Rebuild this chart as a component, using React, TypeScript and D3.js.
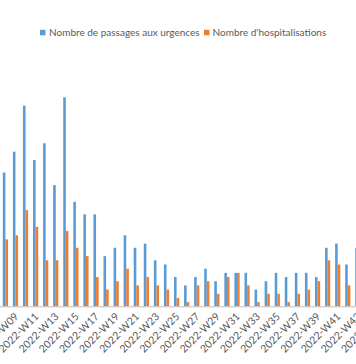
import React from "react";
import * as d3 from "d3";

const weeks = [
  "2022-W08","2022-W09","2022-W10","2022-W11","2022-W12","2022-W13","2022-W14","2022-W15",
  "2022-W16","2022-W17","2022-W18","2022-W19","2022-W20","2022-W21","2022-W22","2022-W23",
  "2022-W24","2022-W25","2022-W26","2022-W27","2022-W28","2022-W29","2022-W30","2022-W31",
  "2022-W32","2022-W33","2022-W34","2022-W35","2022-W36","2022-W37","2022-W38","2022-W39",
  "2022-W40","2022-W41","2022-W42","2022-W43","2022-W44","2022-W45",
];
const tickLabels = weeks.filter((w) => parseInt(w.slice(6), 10) % 2 === 1);

const passages = [32,37,48,35,39,29,50,25,22,22,12,14,17,14,15,11,10,7,5,7,9,6,8,8,8,4,6,8,7,8,8,7,14,15,10,14];
const hospitalisations = [16,17,23,19,11,11,18,14,12,7,4,6,9,5,7,5,4,2,1,5,6,3,7,8,5,1,3,3,1,3,4,6,11,10,5,6];

const seriesNames = ["Nombre de passages aux urgences", "Nombre d'hospitalisations"];
const colors = ["#5B9BD5", "#ED7D31"];

const W = 356;
const H = 364;
const baseY = 306.3;
const step = 10.07;
const x0 = 0.37;
const barW = 2.6;

export default function App() {
  const x = d3.scaleBand<string>().domain(weeks).range([x0, x0 + weeks.length * step]).padding(0);
  const sub = d3
    .scaleBand<string>()
    .domain(seriesNames)
    .range([step / 2 - barW, step / 2 + barW])
    .padding(0);
  const y = d3.scaleLinear().domain([0, 60]).range([baseY, baseY - 60 * 4.18]);

  const data = [passages, hospitalisations];
  const font = "Lato, 'Open Sans', sans-serif";

  return (
    <svg
      width={W}
      height={H}
      style={{ position: "fixed", left: 0, top: 0, background: "#fff" }}
      fontFamily={font}
    >
      <rect x={0} y={0} width={W} height={H} fill="#fff" />
      {data.map((vals, si) =>
        vals.map((v, i) => (
          <rect
            key={`${si}-${i}`}
            x={(x(weeks[i]) as number) + (sub(seriesNames[si]) as number)}
            y={y(v)}
            width={sub.bandwidth()}
            height={baseY - y(v)}
            fill={colors[si]}
          />
        ))
      )}
      <line x1={0} x2={W} y1={baseY + 0.5} y2={baseY + 0.5} stroke="#bfbfbf" strokeWidth={1} />
      {tickLabels.map((t) => {
        const cx = (x(t) as number) + step / 2 + 1;
        const cy = 314.5;
        return (
          <text
            key={t}
            x={cx}
            y={cy}
            dy="0.35em"
            textAnchor="end"
            transform={`rotate(-45 ${cx} ${cy})`}
            fontSize={10.5}
            fill="#595959"
          >
            {t}
          </text>
        );
      })}
      <g>
        <rect x={40} y={29.8} width={5.5} height={5.5} fill={colors[0]} />
        <text x={49} y={32.5} dy="0.35em" fontSize={10} fill="#595959">
          {seriesNames[0]}
        </text>
        <rect x={204} y={29.8} width={5.5} height={5.5} fill={colors[1]} />
        <text x={212.5} y={32.5} dy="0.35em" fontSize={10} fill="#595959">
          {seriesNames[1]}
        </text>
      </g>
    </svg>
  );
}
